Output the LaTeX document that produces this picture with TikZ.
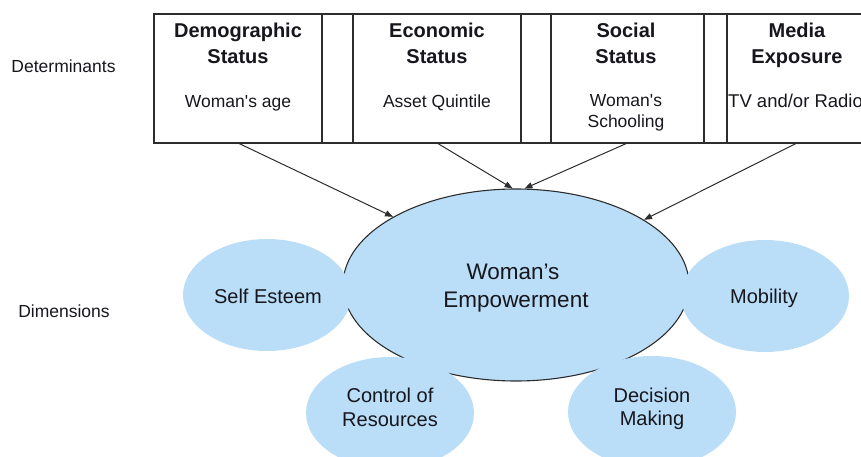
\documentclass[tikz,border=0pt]{standalone}
\usepackage{fontspec}
\setmainfont{Liberation Sans}
\usetikzlibrary{shapes.geometric,arrows.meta}
\definecolor{blobfill}{RGB}{186,222,248}
\definecolor{ink}{RGB}{22,22,28}
\definecolor{edge}{RGB}{45,45,45}
\begin{document}
\begin{tikzpicture}[x=1pt,y=-1pt,
  detbox/.style={draw=edge, line width=1.1pt, minimum height=129pt, inner sep=0pt, outer sep=0pt},
  boxline/.style={draw=edge, line width=1.1pt},
  head/.style={font=\fontsize{20}{26}\selectfont\bfseries, text=ink, anchor=base, inner sep=0pt},
  sub/.style={font=\fontsize{17.5}{21}\selectfont, text=ink, anchor=base, inner sep=0pt},
  rowlabel/.style={font=\fontsize{17.5}{21}\selectfont, text=ink, anchor=base, inner sep=0pt},
  blob/.style={ellipse, fill=blobfill, minimum width=168pt, minimum height=112pt, inner sep=0pt},
  blobtext/.style={font=\fontsize{20}{24}\selectfont, text=ink, anchor=base, inner sep=0pt},
  centertext/.style={font=\fontsize{22.5}{28}\selectfont, text=ink, anchor=base, inner sep=0pt},
  arr/.style={draw=edge, line width=1pt, -{Triangle[length=8pt,width=6pt]}},
]
\useasboundingbox (0,0) rectangle (861,457);
\clip (0,0) rectangle (861,457);

% row labels
\node[rowlabel] (ldet) at (63.5,73) {Determinants};
\node[rowlabel] (ldim) at (64,317) {Dimensions};

% determinant boxes
\node[detbox, minimum width=168pt] (b1) at (238,78.5) {};
\node[detbox, minimum width=168pt] (b2) at (437,78.5) {};
\node[detbox, minimum width=153pt] (b3) at (627.5,78.5) {};
\node[detbox, minimum width=140pt] (b4) at (797,78.5) {};
\draw[boxline] (b1.north east) -- (b2.north west) (b1.south east) -- (b2.south west);
\draw[boxline] (b2.north east) -- (b3.north west) (b2.south east) -- (b3.south west);
\draw[boxline] (b3.north east) -- (b4.north west) (b3.south east) -- (b4.south west);

\node[head] (h1a) at (238,38) {Demographic};
\node[head] (h1b) at (238,64) {Status};
\node[sub]  (s1)  at (238,108) {Woman\textquotesingle s age};
\node[head] (h2a) at (437,38) {Economic};
\node[head] (h2b) at (437,64) {Status};
\node[sub]  (s2)  at (437,108) {Asset Quintile};
\node[head] (h3a) at (626,38) {Social};
\node[head] (h3b) at (626,64) {Status};
\node[sub]  (s3a) at (626,107) {Woman\textquotesingle s};
\node[sub]  (s3b) at (626,128) {Schooling};
\node[head] (h4a) at (797,38) {Media};
\node[head] (h4b) at (797,64) {Exposure};
\node[sub, anchor=base west, font=\fontsize{18.5}{22}\selectfont] (s4) at (728,108) {TV and/or Radio};

% dimensions
\node[ellipse, fill=blobfill, draw=edge, line width=1.1pt, minimum width=346pt, minimum height=192pt, inner sep=0pt] (emp) at (516,285) {};
\node[blob] (self) at (267,295) {};
\node[blob] (mob)  at (765,296) {};
\node[blob] (ctrl) at (390,413) {};
\node[blob] (dec)  at (652,412) {};

\node[centertext] (ew) at (513,279) {Woman’s};
\node[centertext] (ee) at (516,307) {Empowerment};
\node[blobtext] (tself) at (268,303) {Self Esteem};
\node[blobtext] (tmob)  at (764,303) {Mobility};
\node[blobtext] (tc1) at (390,402) {Control of};
\node[blobtext] (tc2) at (390,426) {Resources};
\node[blobtext] (td1) at (652,402) {Decision};
\node[blobtext] (td2) at (652,425) {Making};

% arrows
\draw[arr] (b1.south) -- (emp.151.4);
\draw[arr] (b2.south) -- (emp.92.3);
\draw[arr] (b3.south) -- (emp.85.9);
\draw[arr] (b4.south) -- (emp.27.6);
\end{tikzpicture}
\end{document}
